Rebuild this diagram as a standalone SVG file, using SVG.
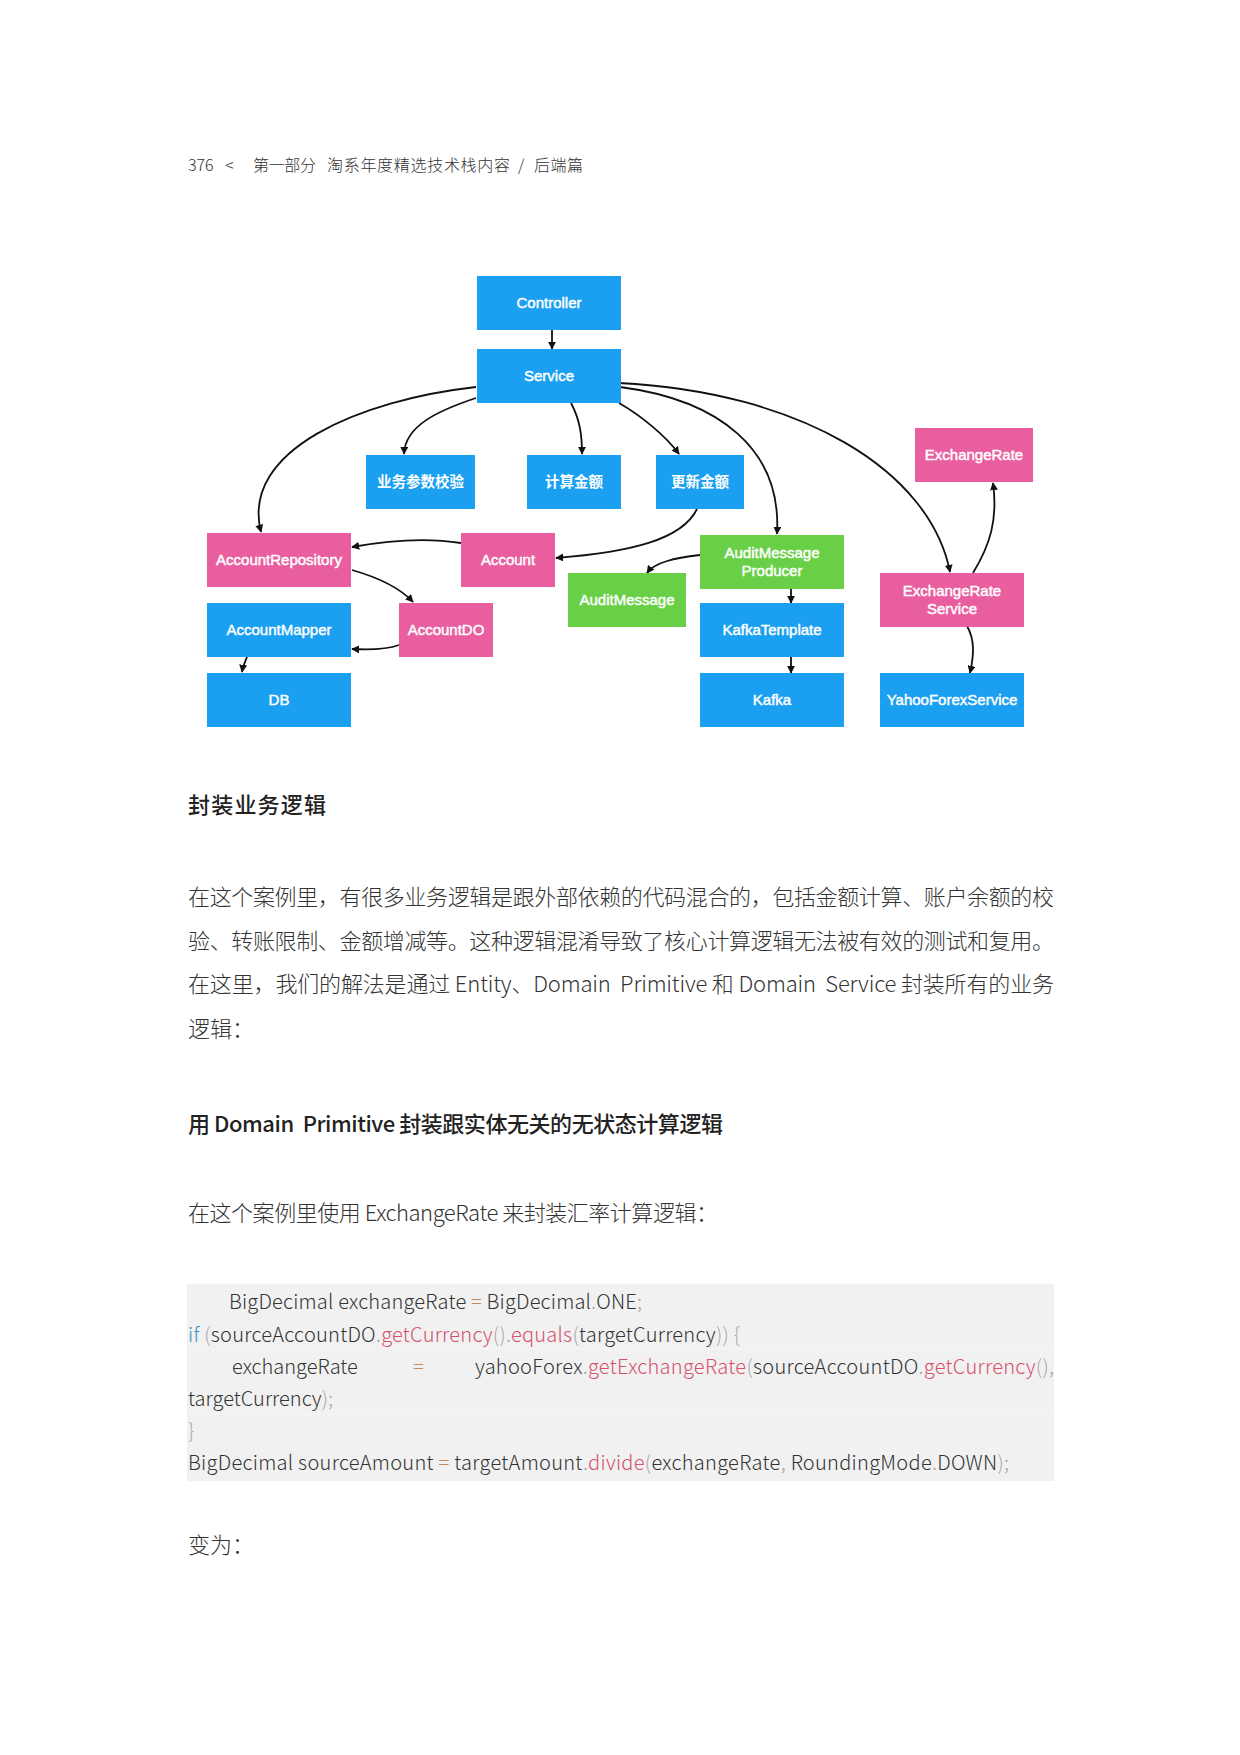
<svg xmlns="http://www.w3.org/2000/svg" width="1240" height="1755" viewBox="0 0 1240 1755">
<defs>
<style>
.blue{fill:#1a9ff1}
.pink{fill:#e95e9f}
.green{fill:#68cf46}
.nl{font-family:"Liberation Sans","Noto Sans CJK SC",sans-serif;font-size:15px;font-weight:normal;fill:#ffffff;stroke:#ffffff;stroke-width:0.45;text-anchor:middle}
.ncj{font-family:"Noto Sans CJK SC",sans-serif;font-size:14.5px;font-weight:bold;fill:#ffffff;text-anchor:middle}
.con{fill:none;stroke:#111111;stroke-width:1.8;marker-end:url(#ah)}
.hdr{font-family:"Noto Sans CJK SC","Noto Sans",sans-serif;font-size:16px;font-weight:300;fill:#333333}
.body{font-family:"Noto Sans CJK SC","Noto Sans",sans-serif;font-size:22px;font-weight:300;fill:#333333}
.h{font-family:"Noto Sans CJK SC","Noto Sans",sans-serif;font-size:22px;font-weight:500;fill:#222222}
.code{font-family:"Noto Sans CJK SC","Noto Sans",sans-serif;font-size:20px;font-weight:300;fill:#333333}
.fn{fill:#d4506c}
.kw{fill:#3f90c8}
.op{fill:#c08a62}
.p{fill:#a8a8a8}
</style>
<marker id="ah" viewBox="0 0 10 10" refX="9" refY="5" markerWidth="8" markerHeight="8" markerUnits="userSpaceOnUse" orient="auto">
<path d="M0,0 L10,5 L0,10 z" fill="#111111"/>
</marker>
</defs>
<rect width="1240" height="1755" fill="#ffffff"/>

<g id="header">
<text class="hdr" x="188" y="171">376</text>
<text class="hdr" x="225" y="171">&lt;</text>
<text class="hdr" x="253" y="171" textLength="63" lengthAdjust="spacing">第一部分</text>
<text class="hdr" x="327" y="171" textLength="183" lengthAdjust="spacing">淘系年度精选技术栈内容</text>
<text class="hdr" x="518" y="171">/</text>
<text class="hdr" x="534" y="171" textLength="49" lengthAdjust="spacing">后端篇</text>
</g>

<g id="connectors">
<path class="con" d="M552,330 L552,349"/>
<path class="con" d="M476,387 C360,400 240,450 261,532"/>
<path class="con" d="M476,398 C440,410 405,425 404,454"/>
<path class="con" d="M571,403 C580,420 582,435 582,454"/>
<path class="con" d="M619,403 C640,415 665,435 679,454"/>
<path class="con" d="M620,387 C720,400 782,450 777,534"/>
<path class="con" d="M619,383 C800,392 930,470 950,572"/>
<path class="con" d="M973,573 C990,545 998,520 993,483"/>
<path class="con" d="M697,509 C682,540 630,552 556,558"/>
<path class="con" d="M461,543 C430,538 390,540 352,547"/>
<path class="con" d="M352,570 C380,578 400,588 413,602"/>
<path class="con" d="M399,645 C385,650 370,650 352,649"/>
<path class="con" d="M247,657 C245,662 243,666 242,672"/>
<path class="con" d="M700,555 C675,558 655,562 647,573"/>
<path class="con" d="M791,589 L791,603"/>
<path class="con" d="M791,657 L791,673"/>
<path class="con" d="M967,626 C975,640 974,655 970,673"/>
</g>

<g id="n-controller"><rect class="blue" x="477" y="276" width="144" height="54"/><text class="nl" x="549" y="308">Controller</text></g>
<g id="n-service"><rect class="blue" x="477" y="349" width="144" height="54"/><text class="nl" x="549" y="381">Service</text></g>
<g id="n-validate"><rect class="blue" x="366" y="455" width="109" height="54"/><text class="ncj" x="420.5" y="487">业务参数校验</text></g>
<g id="n-calc"><rect class="blue" x="527" y="455" width="94" height="54"/><text class="ncj" x="574" y="487">计算金额</text></g>
<g id="n-update"><rect class="blue" x="656" y="455" width="88" height="54"/><text class="ncj" x="700" y="487">更新金额</text></g>
<g id="n-exchangerate"><rect class="pink" x="915" y="428" width="118" height="54"/><text class="nl" x="974" y="460">ExchangeRate</text></g>
<g id="n-accountrepository"><rect class="pink" x="207" y="533" width="144" height="54"/><text class="nl" x="279" y="565">AccountRepository</text></g>
<g id="n-account"><rect class="pink" x="461" y="533" width="94" height="54"/><text class="nl" x="508" y="565">Account</text></g>
<g id="n-auditmessageproducer"><rect class="green" x="700" y="535" width="144" height="54"/><text class="nl" x="772" y="558">AuditMessage</text><text class="nl" x="772" y="576">Producer</text></g>
<g id="n-auditmessage"><rect class="green" x="568" y="573" width="118" height="54"/><text class="nl" x="627" y="605">AuditMessage</text></g>
<g id="n-exchangerateservice"><rect class="pink" x="880" y="573" width="144" height="54"/><text class="nl" x="952" y="596">ExchangeRate</text><text class="nl" x="952" y="614">Service</text></g>
<g id="n-accountmapper"><rect class="blue" x="207" y="603" width="144" height="54"/><text class="nl" x="279" y="635">AccountMapper</text></g>
<g id="n-accountdo"><rect class="pink" x="399" y="603" width="94" height="54"/><text class="nl" x="446" y="635">AccountDO</text></g>
<g id="n-kafkatemplate"><rect class="blue" x="700" y="603" width="144" height="54"/><text class="nl" x="772" y="635">KafkaTemplate</text></g>
<g id="n-db"><rect class="blue" x="207" y="673" width="144" height="54"/><text class="nl" x="279" y="705">DB</text></g>
<g id="n-kafka"><rect class="blue" x="700" y="673" width="144" height="54"/><text class="nl" x="772" y="705">Kafka</text></g>
<g id="n-yahooforexservice"><rect class="blue" x="880" y="673" width="144" height="54"/><text class="nl" x="952" y="705">YahooForexService</text></g>

<g id="text">
<text class="h" x="188" y="813" textLength="138" lengthAdjust="spacing">封装业务逻辑</text>
<text class="body" x="188" y="905" textLength="866" lengthAdjust="spacing">在这个案例里，有很多业务逻辑是跟外部依赖的代码混合的，包括金额计算、账户余额的校</text>
<text class="body" x="188" y="949" textLength="866" lengthAdjust="spacing">验、转账限制、金额增减等。这种逻辑混淆导致了核心计算逻辑无法被有效的测试和复用。</text>
<text class="body" x="188" y="992" textLength="866" lengthAdjust="spacing">在这里，我们的解法是通过 Entity、Domain&#160; Primitive 和 Domain&#160; Service 封装所有的业务</text>
<text class="body" x="188" y="1037">逻辑：</text>
<text class="h" x="188" y="1132" textLength="535" lengthAdjust="spacing">用 Domain&#160; Primitive 封装跟实体无关的无状态计算逻辑</text>
<text class="body" x="188" y="1221" textLength="530" lengthAdjust="spacing">在这个案例里使用 ExchangeRate 来封装汇率计算逻辑：</text>
</g>

<g id="code">
<rect x="187" y="1284" width="867" height="197" fill="#f1f1f1"/>
<line x1="187" y1="1349" x2="1054" y2="1349" stroke="#f7f7f7" stroke-width="1"/>
<line x1="187" y1="1414" x2="1054" y2="1414" stroke="#f7f7f7" stroke-width="1"/>
<text class="code" x="229" y="1309" textLength="413" lengthAdjust="spacing">BigDecimal exchangeRate <tspan class="op">=</tspan> BigDecimal<tspan class="p">.</tspan>ONE<tspan class="p">;</tspan></text>
<text class="code" x="188" y="1342" textLength="552" lengthAdjust="spacing"><tspan class="kw">if</tspan> <tspan class="p">(</tspan>sourceAccountDO<tspan class="p">.</tspan><tspan class="fn">getCurrency</tspan><tspan class="p">().</tspan><tspan class="fn">equals</tspan><tspan class="p">(</tspan>targetCurrency<tspan class="p">)) {</tspan></text>
<text class="code" x="232" y="1374">exchangeRate</text>
<text class="code op" x="413" y="1374">=</text>
<text class="code" x="475" y="1374" textLength="579" lengthAdjust="spacing">yahooForex<tspan class="p">.</tspan><tspan class="fn">getExchangeRate</tspan><tspan class="p">(</tspan>sourceAccountDO<tspan class="p">.</tspan><tspan class="fn">getCurrency</tspan><tspan class="p">(),</tspan></text>
<text class="code" x="188" y="1406" textLength="145" lengthAdjust="spacing">targetCurrency<tspan class="p">);</tspan></text>
<text class="code" x="188" y="1438"><tspan class="p">}</tspan></text>
<text class="code" x="188" y="1470" textLength="821" lengthAdjust="spacing">BigDecimal sourceAmount <tspan class="op">=</tspan> targetAmount<tspan class="p">.</tspan><tspan class="fn">divide</tspan><tspan class="p">(</tspan>exchangeRate<tspan class="p">,</tspan> RoundingMode<tspan class="p">.</tspan>DOWN<tspan class="p">);</tspan></text>
</g>

<g id="footer-text">
<text class="body" x="188" y="1553">变为：</text>
</g>
</svg>
